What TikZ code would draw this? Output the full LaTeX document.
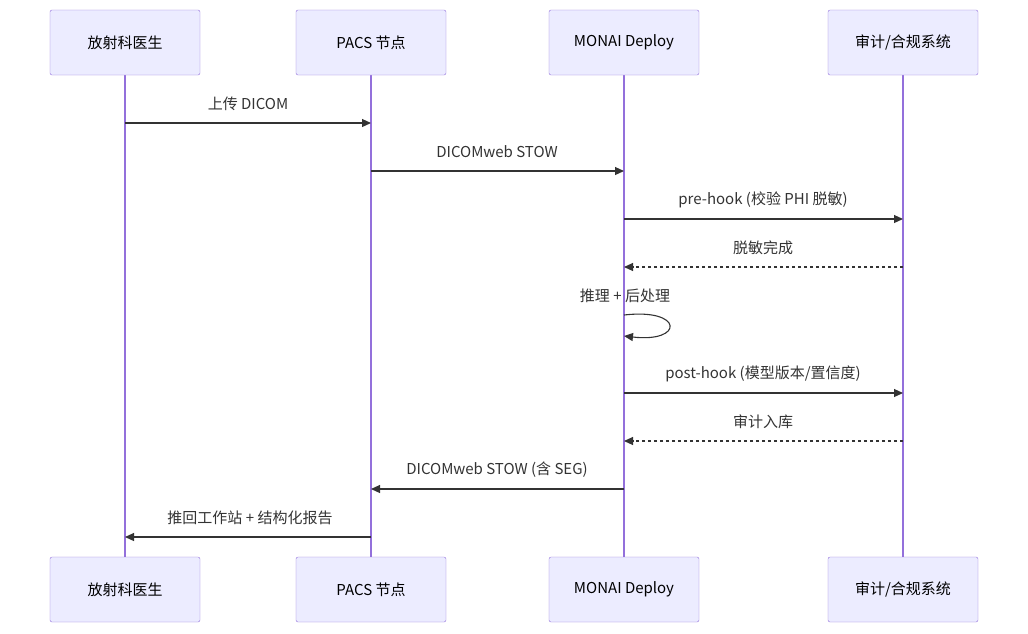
\documentclass[tikz,border=0pt]{standalone}
\usepackage{fontspec}
\setmainfont{Noto Sans CJK SC}
\usetikzlibrary{arrows.meta}
\definecolor{actorfill}{HTML}{ECECFF}
\definecolor{actorline}{HTML}{9370DB}
\definecolor{msgline}{HTML}{333333}
\begin{document}
\begin{tikzpicture}[x=1pt,y=-1pt,
  actor/.style={draw=actorline,fill=actorfill,rounded corners=2pt,minimum width=150pt,minimum height=65pt,font=\fontsize{15}{17}\selectfont,inner sep=0pt},
  life/.style={draw=actorline,line width=1.2pt},
  msg/.style={draw=msgline,line width=1.1pt,-{Triangle[length=9pt,width=8pt]}},
  reply/.style={msg,dash pattern=on 3pt off 3pt},
  lbl/.style={font=\fontsize{15}{17}\selectfont,text=msgline,inner sep=0pt}]
\useasboundingbox (0,0) rectangle (1028,633);

% Lifelines
\foreach \name/\x in {doc/125,pacs/371,monai/624,audit/903}{
  \draw[life] (\x,75) -- (\x,557);
  \foreach \y in {123,171,219,267,315,336,393,441,489,537}
    \coordinate (\name\y) at (\x,\y);
}

% Actors, top and bottom
\foreach \name/\x/\txt in {doc/125/放射科医生,pacs/371/PACS 节点,monai/624/MONAI Deploy,audit/903/{审计/合规系统}}{
  \node[actor] (\name top) at (\x,42.5) {\txt};
  \node[actor] (\name bot) at (\x,589.5) {\txt};
}

% Messages
\draw[msg] (doc123) -- (pacs123);
\node[lbl] (m1) at (248,104) {上传 DICOM};
\draw[msg] (pacs171) -- (monai171);
\node[lbl] (m2) at (497,152) {DICOMweb STOW};
\draw[msg] (monai219) -- (audit219);
\node[lbl] (m3) at (763,200) {pre-hook (校验 PHI 脱敏)};
\draw[reply] (audit267) -- (monai267);
\node[lbl] (m4) at (763,248) {脱敏完成};
\node[lbl] (m5) at (625,296) {推理 + 后处理};
\draw[msg] (monai315) .. controls (684,308) and (684,343) .. (monai336);
\draw[msg] (monai393) -- (audit393);
\node[lbl] (m6) at (763,374) {post-hook (模型版本/置信度)};
\draw[reply] (audit441) -- (monai441);
\node[lbl] (m7) at (763,422) {审计入库};
\draw[msg] (monai489) -- (pacs489);
\node[lbl] (m8) at (497,470) {DICOMweb STOW (含 SEG)};
\draw[msg] (pacs537) -- (doc537);
\node[lbl] (m9) at (250,518) {推回工作站 + 结构化报告};
\end{tikzpicture}
\end{document}
